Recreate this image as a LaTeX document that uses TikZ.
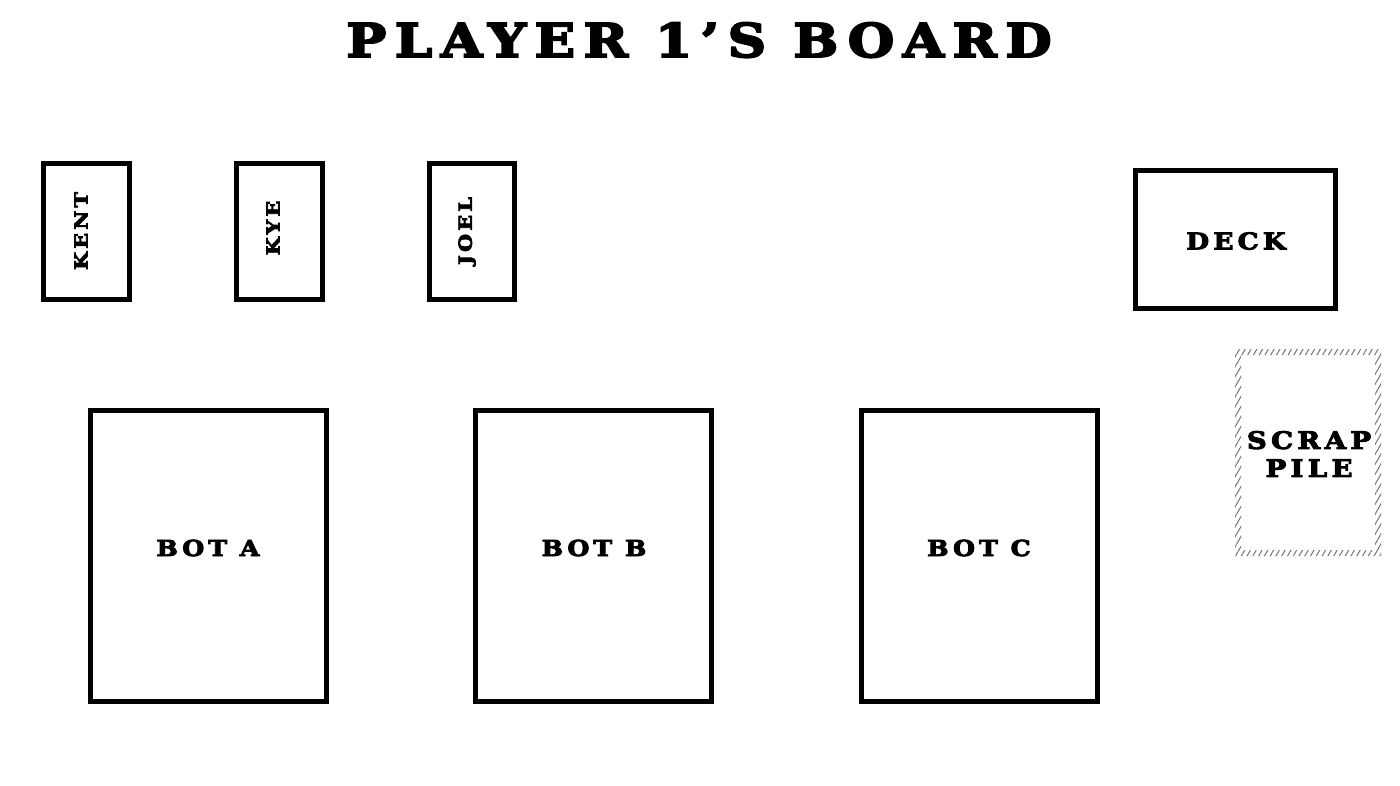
\documentclass[tikz,border=0pt]{standalone}
\usepackage{fontspec}
\newfontfamily\stencil{DejaVu Serif}[UprightFont={* Bold}, LetterSpace=18, FakeBold=4, FakeStretch=1.15]
\usetikzlibrary{patterns.meta}
\begin{document}
\begin{tikzpicture}[x=1pt,y=-1pt,
  card/.style={draw=black, line width=5pt},
  lbl/.style={font=\stencil, inner sep=0pt},
  hatch/.style={pattern={Lines[distance=5pt,angle=60,line width=1pt]}, pattern color=black!55}]
\useasboundingbox (0,0) rectangle (1400,786);
\fill[white] (0,0) rectangle (1400,786);
\node[lbl, font=\stencil\fontsize{46.5}{46.5}\selectfont, anchor=base] (title) at (699,57) {PLAYER 1’S BOARD};
% small cards
\draw[card] (43,164) rectangle (129,300);
\node[lbl, font=\stencil\fontsize{18}{18}\selectfont, rotate=90] (kent) at (81,231) {KENT};
\draw[card] (236,164) rectangle (322,300);
\node[lbl, font=\stencil\fontsize{18}{18}\selectfont, rotate=90] (kye) at (273,228) {KYE};
\draw[card] (429,164) rectangle (514,300);
\node[lbl, font=\stencil\fontsize{18}{18}\selectfont, rotate=90] (joel) at (467,231) {JOEL};
% deck
\draw[card] (1135,171) rectangle (1335,309);
\node[lbl, font=\stencil\fontsize{23}{23}\selectfont] (deck) at (1236,241) {DECK};
% scrap pile
\fill[hatch, even odd rule] (1235,349) rectangle (1381,556) (1241,355) rectangle (1375,550);
\node[lbl, font=\stencil\fontsize{24}{28}\selectfont, align=center] (scrap) at (1309,454) {SCRAP\\PILE};
% bots
\draw[card] (90,410) rectangle (326,701);
\node[lbl, font=\stencil\fontsize{22}{22}\selectfont] (bota) at (208,548) {BOT A};
\draw[card] (475,410) rectangle (711,701);
\node[lbl, font=\stencil\fontsize{22}{22}\selectfont] (botb) at (594,548) {BOT B};
\draw[card] (861,410) rectangle (1097,701);
\node[lbl, font=\stencil\fontsize{22}{22}\selectfont] (botc) at (979,548) {BOT C};
\end{tikzpicture}
\end{document}
